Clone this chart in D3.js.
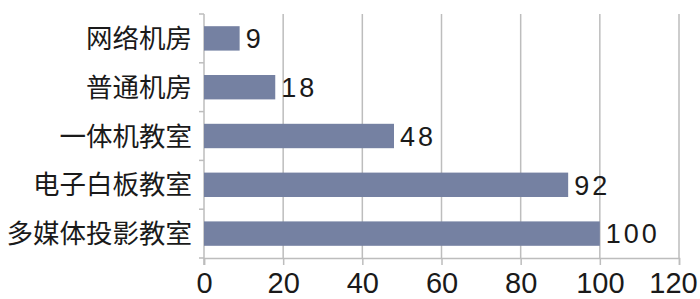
<!DOCTYPE html>
<html>
<head>
<meta charset="utf-8">
<script src="https://cdn.jsdelivr.net/npm/d3@7"></script>
<style>
  body { margin: 0; background: #fff; }
  .cat { font-family: "Noto Sans CJK SC", sans-serif; font-size: 26.5px; fill: #1a1a1a; }
  .tick text { font-family: "Liberation Sans Narrow", "Liberation Sans", sans-serif; font-size: 29px; fill: #1a1a1a; }
  .val { font-family: "Liberation Sans", sans-serif; font-size: 27px; fill: #1a1a1a; letter-spacing: 3px; }
</style>
</head>
<body>
<div id="chart"></div>
<script>
var categories = ["网络机房", "普通机房", "一体机教室", "电子白板教室", "多媒体投影教室"];
var values = [9, 18, 48, 92, 100];
var xTicks = [0, 20, 40, 60, 80, 100, 120];

var width = 700, height = 299;
var margin = { top: 14, right: 21, bottom: 41, left: 204 };

var svg = d3.select("#chart").append("svg")
    .attr("width", width)
    .attr("height", height);

var x = d3.scaleLinear()
    .domain([0, 120])
    .range([margin.left, width - margin.right]);

var y = d3.scaleBand()
    .domain(categories)
    .range([margin.top, height - margin.bottom])
    .paddingInner(0.5)
    .paddingOuter(0.25);

// vertical gridlines
svg.append("g").selectAll("line")
    .data(xTicks.slice(1))
    .enter().append("line")
    .attr("x1", function(d) { return x(d); })
    .attr("x2", function(d) { return x(d); })
    .attr("y1", margin.top)
    .attr("y2", height - margin.bottom)
    .attr("stroke", "#bdbdbd")
    .attr("stroke-width", 1.5);

// x axis
var xAxis = svg.append("g")
    .attr("transform", "translate(0," + (height - margin.bottom) + ")")
    .call(d3.axisBottom(x).tickValues(xTicks).tickSize(7).tickPadding(7));
xAxis.select(".domain").attr("stroke", "#bdbdbd").attr("stroke-width", 1.5);
xAxis.selectAll(".tick line").attr("stroke", "#bdbdbd").attr("stroke-width", 1.5);
xAxis.selectAll(".tick text")
    .filter(function(d) { return d === 120; })
    .attr("dx", "-6");

// y axis: separators between bands
var sep = categories.slice(1).map(function(c) { return y(c) - y.step() * y.paddingInner() / 2; });
svg.append("line")
    .attr("x1", x(0)).attr("x2", x(0))
    .attr("y1", margin.top).attr("y2", height - margin.bottom + 7)
    .attr("stroke", "#bdbdbd").attr("stroke-width", 1.5);
svg.append("g").selectAll("line")
    .data(sep.concat([margin.top, height - margin.bottom]))
    .enter().append("line")
    .attr("x1", x(0) - 5).attr("x2", x(0))
    .attr("y1", function(d) { return d; })
    .attr("y2", function(d) { return d; })
    .attr("stroke", "#bdbdbd").attr("stroke-width", 1.5);

// category labels
svg.append("g").selectAll("text")
    .data(categories)
    .enter().append("text")
    .attr("class", "cat")
    .attr("x", x(0) - 12)
    .attr("y", function(d) { return y(d) + y.bandwidth() / 2; })
    .attr("dy", "0.36em")
    .attr("text-anchor", "end")
    .text(function(d) { return d; });

// bars
svg.append("g").selectAll("rect")
    .data(values)
    .enter().append("rect")
    .attr("x", x(0))
    .attr("y", function(d, i) { return y(categories[i]); })
    .attr("width", function(d) { return x(d) - x(0); })
    .attr("height", y.bandwidth())
    .attr("fill", "#7581a2");

// value labels
svg.append("g").selectAll("text")
    .data(values)
    .enter().append("text")
    .attr("class", "val")
    .attr("x", function(d) { return x(d) + 6; })
    .attr("y", function(d, i) { return y(categories[i]) + y.bandwidth() / 2; })
    .attr("dy", "0.36em")
    .text(function(d) { return d; });
</script>
</body>
</html>
